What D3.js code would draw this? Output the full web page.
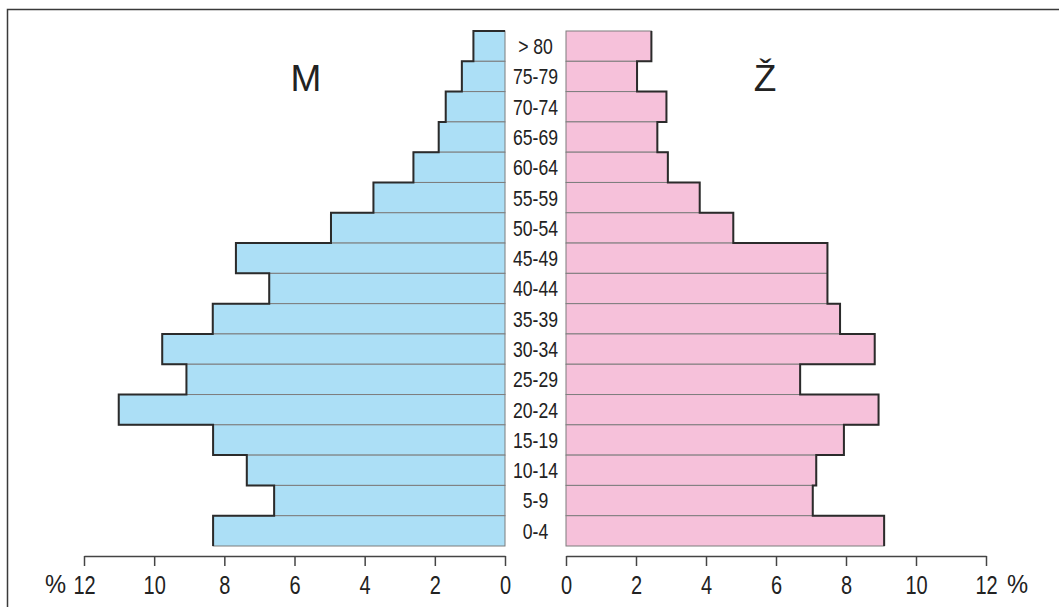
<!DOCTYPE html>
<html>
<head>
<meta charset="utf-8">
<script src="https://cdn.jsdelivr.net/npm/d3@7"></script>
<style>
  html, body { margin: 0; padding: 0; background: #fff; }
  svg { display: block; }
  text { font-family: "Liberation Sans", Arial, sans-serif; }
</style>
</head>
<body>
<div id="chart"></div>
<script>
// age groups, top to bottom
const ages = ['> 80', '75-79', '70-74', '65-69', '60-64', '55-59', '50-54', '45-49', '40-44',
              '35-39', '30-34', '25-29', '20-24', '15-19', '10-14', '5-9', '0-4'];
const male = [0.90, 1.23, 1.69, 1.89, 2.61, 3.75, 4.96, 7.67, 6.72,
              8.33, 9.77, 9.08, 11.01, 8.32, 7.36, 6.58, 8.32];
const female = [2.44, 2.03, 2.87, 2.61, 2.91, 3.82, 4.78, 7.47, 7.47,
                7.83, 8.82, 6.69, 8.93, 7.94, 7.15, 7.05, 9.09];
const ticks = [0, 2, 4, 6, 8, 10, 12];
const titles = ['M', 'Ž'];

const width = 1059, height = 607;
const narrow = 'scale(0.8,1)';   // no condensed font installed, squeeze instead

const svg = d3.select('#chart').append('svg')
    .attr('width', width)
    .attr('height', height);

// frame (right and bottom sides fall outside the picture)
svg.append('rect')
    .attr('x', 7.5).attr('y', 9.5)
    .attr('width', 1200).attr('height', 800)
    .attr('fill', 'none')
    .attr('stroke', '#3a3a3a')
    .attr('stroke-width', 1.5);

const y = d3.scaleBand().domain(ages).range([31, 546]).padding(0);
const xM = d3.scaleLinear().domain([0, 12]).range([505, 84]);
const xF = d3.scaleLinear().domain([0, 12]).range([566, 986]);
const bw = y.bandwidth();

function side(values, x, fill, withTop) {
    const g = svg.append('g');
    g.selectAll('rect')
        .data(values)
        .join('rect')
        .attr('x', d => Math.min(x(0), x(d)))
        .attr('y', (d, i) => y(ages[i]))
        .attr('width', d => Math.abs(x(d) - x(0)))
        .attr('height', bw)
        .attr('fill', fill)
        .attr('stroke', '#7d7d7d')
        .attr('stroke-width', 1);

    // dark outer step outline
    const pts = [];
    if (withTop) pts.push([x(0), y(ages[0])]);
    values.forEach((d, i) => {
        pts.push([x(d), y(ages[i])]);
        pts.push([x(d), y(ages[i]) + bw]);
    });
    g.append('path')
        .attr('d', d3.line()(pts))
        .attr('fill', 'none')
        .attr('stroke', '#2b2b2b')
        .attr('stroke-width', 2);
}

side(male, xM, '#acdff6', true);
side(female, xF, '#f6c1da', false);

// age labels
svg.append('g')
    .selectAll('g')
    .data(ages)
    .join('g')
    .attr('transform', d => `translate(${(xM(0) + xF(0)) / 2},${y(d) + bw / 2})`)
    .append('text')
    .attr('transform', narrow)
    .attr('dy', '0.36em')
    .attr('text-anchor', 'middle')
    .attr('font-size', 22)
    .attr('fill', '#222')
    .text(d => d);

// axes
const axisY = 556;
function drawAxis(x) {
    const g = svg.append('g')
        .attr('transform', `translate(0,${axisY})`)
        .call(d3.axisBottom(x).tickValues(ticks).tickSize(10).tickSizeOuter(0).tickPadding(10));
    g.attr('font-family', null);
    g.select('.domain').attr('stroke', '#444').attr('stroke-width', 1.5);
    g.selectAll('.tick line').attr('stroke', '#444').attr('stroke-width', 1.5);
    g.selectAll('.tick text')
        .attr('transform', narrow)
        .attr('font-size', 25)
        .attr('fill', '#222');
}
drawAxis(xM);
drawAxis(xF);

// percent signs
svg.append('g')
    .attr('transform', `translate(${xM(12) - 18},593)`)
    .append('text')
    .attr('transform', 'scale(0.95,1)')
    .attr('text-anchor', 'end')
    .attr('font-size', 25).attr('fill', '#222')
    .text('%');
svg.append('g')
    .attr('transform', `translate(${xF(12) + 21},593)`)
    .append('text')
    .attr('transform', 'scale(0.95,1)')
    .attr('text-anchor', 'start')
    .attr('font-size', 25).attr('fill', '#222')
    .text('%');

// titles
svg.append('text')
    .attr('x', 306).attr('y', 91)
    .attr('text-anchor', 'middle')
    .attr('font-size', 37).attr('fill', '#222')
    .text(titles[0]);
svg.append('text')
    .attr('x', 765).attr('y', 91)
    .attr('text-anchor', 'middle')
    .attr('font-size', 37).attr('fill', '#222')
    .text(titles[1]);
</script>
</body>
</html>
